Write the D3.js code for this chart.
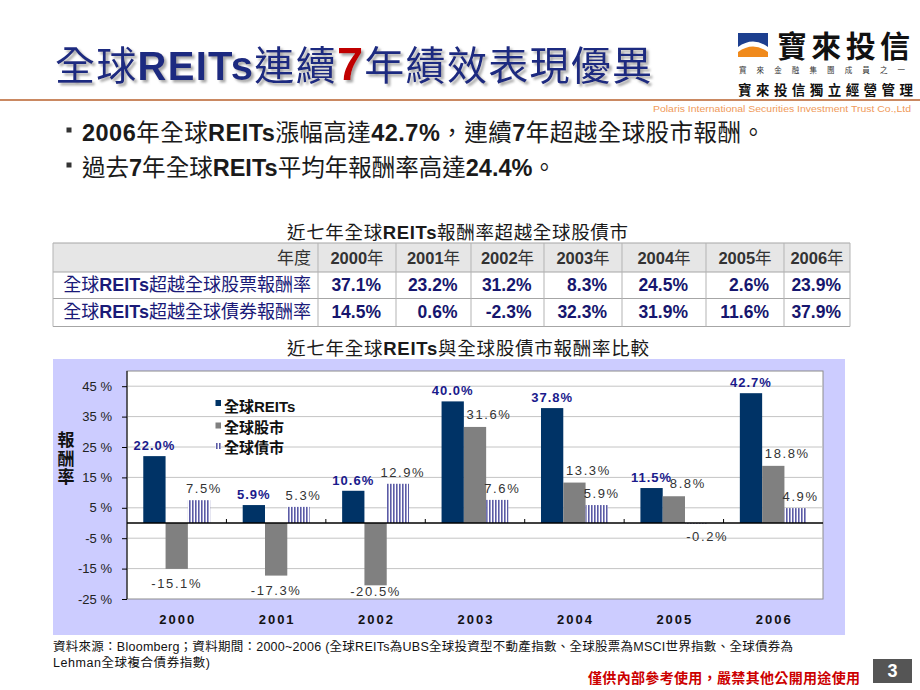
<!DOCTYPE html>
<html>
<head>
<meta charset="utf-8">
<script src="https://cdn.jsdelivr.net/npm/d3@7"></script>
<style>
  html, body { margin: 0; padding: 0; background: #ffffff; }
  svg { display: block; }
</style>
</head>
<body>
<script>
// ---------------- DATA ----------------
const years = ["2000", "2001", "2002", "2003", "2004", "2005", "2006"];
const seriesKeys = ["reits", "stocks", "bonds"];
const seriesNames = ["全球REITs", "全球股市", "全球債市"];
const reitsReturns = [22.0, 5.9, 10.6, 40.0, 37.8, 11.5, 42.7];
const stockReturns = [-15.1, -17.3, -20.5, 31.6, 13.3, 8.8, 18.8];
const bondReturns = [7.5, 5.3, 12.9, 7.6, 5.9, -0.2, 4.9];
const yTicks = [-25, -15, -5, 5, 15, 25, 35, 45];
const yDomain = [-25, 50];

const tableHeaderLabel = "年度";
const tableYears = ["2000年", "2001年", "2002年", "2003年", "2004年", "2005年", "2006年"];
const tableRowLabels = ["全球REITs超越全球股票報酬率", "全球REITs超越全球債券報酬率"];
const excessVsStocks = [37.1, 23.2, 31.2, 8.3, 24.5, 2.6, 23.9];
const excessVsBonds = [14.5, 0.6, -2.3, 32.3, 31.9, 11.6, 37.9];

// ---------------- SETUP ----------------
const FONT = "'Liberation Sans', Arial, 'Noto Sans CJK TC', sans-serif";
const NAVY = "#1f2a80";
const pct = v => v.toFixed(1) + "%";   // plain hyphen minus, as in the slide
const svg = d3.select("body").append("svg")
  .attr("width", 920).attr("height", 690)
  .style("font-family", FONT);

const defs = svg.append("defs");
const shadow = defs.append("filter").attr("id", "tshadow")
  .attr("x", "-5%").attr("y", "-20%").attr("width", "115%").attr("height", "150%");
shadow.append("feDropShadow").attr("dx", 2.5).attr("dy", 2.5)
  .attr("stdDeviation", 1).attr("flood-color", "#8a8a8a").attr("flood-opacity", 0.75);

const stripe = defs.append("pattern").attr("id", "stripes")
  .attr("patternUnits", "userSpaceOnUse").attr("width", 3).attr("height", 3);
stripe.append("rect").attr("width", 3).attr("height", 3).attr("fill", "#ffffff");
stripe.append("rect").attr("width", 1.6).attr("height", 3).attr("fill", "#5b5ba6");

function richText(g, parts, attrs) {
  const t = g.append("text");
  Object.entries(attrs).forEach(([k, v]) => t.attr(k, v));
  parts.forEach(p => {
    const s = t.append("tspan").text(p.t);
    if (p.b) s.attr("font-weight", "bold");
    if (p.fill) s.attr("fill", p.fill);
    if (p.size) s.attr("font-size", p.size);
    if (p.ls) s.attr("letter-spacing", p.ls);
  });
  return t;
}

// ---------------- HEADER ----------------
richText(svg, [
  {t: "全球"}, {t: "REITs", b: 1}, {t: "連續"},
  {t: "7", b: 1, fill: "#c00000", size: 47}, {t: "年績效表現優異"}
], {x: 55, y: 80, "font-size": 40, fill: NAVY, filter: "url(#tshadow)",
    textLength: 597, lengthAdjust: "spacing"});

// logo
const logo = svg.append("g");
logo.append("path").attr("d", "M738,33 H768 V47 Q753,36 738,47 Z").attr("fill", "#1d3f8f");
logo.append("path").attr("d", "M738,52 Q753,41 768,52 V57 H738 Z").attr("fill", "#f08a1c");
logo.append("text").attr("x", 777).attr("y", 57).attr("font-size", 30).attr("font-weight", "bold")
  .attr("fill", "#111").attr("textLength", 133).attr("lengthAdjust", "spacing").text("寶來投信");
logo.append("text").attr("x", 739).attr("y", 73).attr("font-size", 7.5).attr("fill", "#333")
  .attr("textLength", 166).attr("lengthAdjust", "spacing").text("寶來金融集團成員之一");
logo.append("text").attr("x", 738).attr("y", 95).attr("font-size", 13.5).attr("font-weight", "bold")
  .attr("fill", "#111").attr("textLength", 175).attr("lengthAdjust", "spacing").text("寶來投信獨立經營管理");
svg.append("line").attr("x1", 0).attr("x2", 920).attr("y1", 100).attr("y2", 100)
  .attr("stroke", "#b8622e").attr("stroke-width", 1.5);
svg.append("text").attr("x", 911).attr("y", 112).attr("text-anchor", "end").attr("font-size", 9.5)
  .attr("fill", "#f09a5a").attr("textLength", 258).attr("lengthAdjust", "spacingAndGlyphs")
  .text("Polaris International Securities Investment Trust Co.,Ltd");

// bullets
const bullets = [
  {y: 141, len: 683, parts: [{t: "2006", b: 1}, {t: "年全球"}, {t: "REITs", b: 1}, {t: "漲幅高達"}, {t: "42.7%", b: 1},
    {t: "，連續"}, {t: "7", b: 1}, {t: "年超越全球股市報酬。"}]},
  {y: 176, len: 474, parts: [{t: "過去"}, {t: "7", b: 1}, {t: "年全球"}, {t: "REITs", b: 1}, {t: "平均年報酬率高達"},
    {t: "24.4%", b: 1}, {t: "。"}]}
];
bullets.forEach(b => {
  svg.append("rect").attr("x", 66.5).attr("y", b.y - 13.5).attr("width", 5).attr("height", 5).attr("fill", "#333");
  richText(svg, b.parts, {x: 82, y: b.y, "font-size": 23.5, fill: "#1a1a1a",
    textLength: b.len, lengthAdjust: "spacing"});
});

// ---------------- TABLE ----------------
richText(svg, [{t: "近七年全球"}, {t: "REITs", b: 1}, {t: "報酬率超越全球股債市"}],
  {x: 287, y: 239, "font-size": 18.5, fill: "#1a1a1a", textLength: 341, lengthAdjust: "spacing"});

const colX = [53, 318, 396, 471, 544, 622, 706, 784, 850];
const rowY = [243, 272, 298.5, 326.5];
const table = svg.append("g");
table.append("rect").attr("x", colX[0]).attr("y", rowY[0]).attr("width", colX[8] - colX[0])
  .attr("height", rowY[1] - rowY[0]).attr("fill", "#e6e6e6");
rowY.forEach(yv => table.append("line").attr("x1", colX[0]).attr("x2", colX[8])
  .attr("y1", yv).attr("y2", yv).attr("stroke", "#a6a6a6").attr("stroke-width", 1.2));
colX.forEach(xv => table.append("line").attr("x1", xv).attr("x2", xv)
  .attr("y1", rowY[0]).attr("y2", rowY[3]).attr("stroke", "#b3b3b3").attr("stroke-width", 1));

table.append("text").attr("x", 311).attr("y", 264).attr("text-anchor", "end")
  .attr("font-size", 17).attr("fill", "#333").text(tableHeaderLabel);
tableYears.forEach((yr, i) => {
  const cx = (colX[i + 1] + colX[i + 2]) / 2;
  richText(table, [{t: yr.replace("年", ""), b: 1}, {t: "年"}],
    {x: cx, y: 264, "text-anchor": "middle", "font-size": 16.5, fill: "#333"});
});
const tableRows = [excessVsStocks, excessVsBonds];
tableRows.forEach((vals, r) => {
  const by = [291, 318][r];
  const lbl = tableRowLabels[r];
  richText(table, [{t: "全球"}, {t: "REITs", b: 1}, {t: lbl.replace("全球REITs", "")}],
    {x: 311, y: by, "text-anchor": "end", "font-size": 18, fill: "#1a1a78"});
  vals.forEach((v, i) => {
    const cx = (colX[i + 1] + colX[i + 2]) / 2;
    table.append("text").attr("x", cx + 24).attr("y", by).attr("text-anchor", "end")
      .attr("font-size", 17.5).attr("font-weight", "bold").attr("fill", "#16166e")
      .text(pct(v));
  });
});

// ---------------- CHART ----------------
richText(svg, [{t: "近七年全球"}, {t: "REITs", b: 1}, {t: "與全球股債市報酬率比較"}],
  {x: 287, y: 355, "font-size": 18.5, fill: "#1a1a1a", textLength: 362, lengthAdjust: "spacing"});

svg.append("rect").attr("x", 53).attr("y", 359).attr("width", 792).attr("height", 276).attr("fill", "#ccccff");

const plot = {left: 127, right: 823, top: 371, bottom: 599};
const x0 = d3.scaleBand().domain(years).range([plot.left, plot.right]);
const x1 = d3.scaleBand().domain(seriesKeys).range([0, x0.bandwidth()]).paddingOuter(0.73);
const y = d3.scaleLinear().domain(yDomain).range([plot.bottom, plot.top]);

const chart = svg.append("g");
chart.append("rect").attr("x", plot.left).attr("y", plot.top)
  .attr("width", plot.right - plot.left).attr("height", plot.bottom - plot.top)
  .attr("fill", "#ffffff").attr("stroke", "#8c8c8c").attr("stroke-width", 1);

chart.selectAll("line.grid").data(yTicks.filter(t => t > yDomain[0])).join("line")
  .attr("class", "grid").attr("x1", plot.left).attr("x2", plot.right)
  .attr("y1", d => y(d)).attr("y2", d => y(d)).attr("stroke", "#c4c4c4").attr("stroke-width", 1);

const yAxis = chart.append("g").attr("transform", `translate(${plot.left},0)`)
  .call(d3.axisLeft(y).tickValues(yTicks).tickSize(5).tickSizeOuter(0).tickPadding(10)
    .tickFormat(d => d + " %"));
yAxis.select(".domain").attr("stroke", "#000").attr("d", `M0,${plot.top}V${plot.bottom}`);
yAxis.selectAll(".tick line").attr("stroke", "#000");
yAxis.selectAll(".tick text").attr("font-size", 13).attr("fill", "#222").attr("font-family", FONT);

const seriesData = {reits: reitsReturns, stocks: stockReturns, bonds: bondReturns};
const fills = {reits: "#003366", stocks: "#808080", bonds: "url(#stripes)"};
seriesKeys.forEach(k => {
  chart.selectAll("rect.bar-" + k).data(seriesData[k]).join("rect")
    .attr("class", "bar-" + k)
    .attr("x", (d, i) => x0(years[i]) + x1(k))
    .attr("width", x1.bandwidth())
    .attr("y", d => y(Math.max(0, d)))
    .attr("height", d => Math.abs(y(d) - y(0)))
    .attr("fill", fills[k]);
});

chart.append("line").attr("x1", plot.left).attr("x2", plot.right)
  .attr("y1", y(0)).attr("y2", y(0)).attr("stroke", "#000").attr("stroke-width", 1.3);
chart.selectAll("line.cat-tick").data(years.slice(1)).join("line").attr("class", "cat-tick")
  .attr("x1", d => x0(d)).attr("x2", d => x0(d))
  .attr("y1", y(0)).attr("y2", y(0) - 4).attr("stroke", "#000");

const labelG = chart.append("g").attr("font-size", 13);
seriesKeys.forEach(k => {
  seriesData[k].forEach((v, i) => {
    const cx = x0(years[i]) + x1(k) + x1.bandwidth() / 2;
    let lx = cx, ly;
    if (k === "reits") {
      ly = y(v) - 6;
    } else if (k === "stocks") {
      if (v >= 0) { ly = y(v) - 8; lx = cx + 14; }
      else { ly = Math.min(y(v) + 19, plot.bottom - 3); }
    } else {
      if (v >= 0) { ly = y(v) - 7; lx = cx + 5; }
      else { ly = y(v) + 17; lx = cx + 11; }
    }
    const t = labelG.append("text").attr("x", lx).attr("y", ly).attr("text-anchor", "middle").text(pct(v));
    if (k === "reits") t.attr("font-weight", "bold").attr("fill", "#1a1a8c").attr("letter-spacing", 1);
    else t.attr("fill", "#333").attr("letter-spacing", 1.6);
  });
});

chart.selectAll("text.xlab").data(years).join("text").attr("class", "xlab")
  .attr("x", d => x0(d) + x0.bandwidth() / 2 + 1).attr("y", 624)
  .attr("text-anchor", "middle").attr("font-size", 13).attr("font-weight", "bold")
  .attr("letter-spacing", 2).attr("fill", "#111").text(d => d);

["報", "酬", "率"].forEach((c, i) => {
  chart.append("text").attr("x", 66).attr("y", 446 + i * 18.5).attr("text-anchor", "middle")
    .attr("font-size", 17).attr("font-weight", "bold").attr("fill", "#111").text(c);
});

const legend = chart.append("g");
const legY = [412, 432.5, 453];
seriesKeys.forEach((k, i) => {
  legend.append("rect").attr("x", 215.5).attr("y", legY[i] - (i === 0 ? 12 : 10))
    .attr("width", 5.5).attr("height", 6).attr("fill", fills[k]);
  legend.append("text").attr("x", 224).attr("y", legY[i]).attr("font-size", 15)
    .attr("font-weight", "bold").attr("fill", "#111").text(seriesNames[i]);
});

// ---------------- FOOTER ----------------
svg.append("text").attr("x", 53).attr("y", 651).attr("font-size", 12.5).attr("fill", "#111")
  .attr("textLength", 740).attr("lengthAdjust", "spacing")
  .text("資料來源：Bloomberg；資料期間：2000~2006 (全球REITs為UBS全球投資型不動產指數、全球股票為MSCI世界指數、全球債券為");
svg.append("text").attr("x", 53).attr("y", 667).attr("font-size", 12.5).attr("fill", "#111")
  .attr("textLength", 157).attr("lengthAdjust", "spacing").text("Lehman全球複合債券指數)");
svg.append("text").attr("x", 860).attr("y", 683).attr("text-anchor", "end").attr("font-size", 14)
  .attr("font-weight", "bold").attr("fill", "#cc0000").attr("textLength", 272).attr("lengthAdjust", "spacing")
  .text("僅供內部參考使用，嚴禁其他公開用途使用");
svg.append("rect").attr("x", 873).attr("y", 659).attr("width", 39).attr("height", 24).attr("fill", "#555555");
svg.append("text").attr("x", 892.5).attr("y", 677).attr("text-anchor", "middle").attr("font-size", 18)
  .attr("font-weight", "bold").attr("fill", "#ffffff").text("3");
</script>
</body>
</html>
